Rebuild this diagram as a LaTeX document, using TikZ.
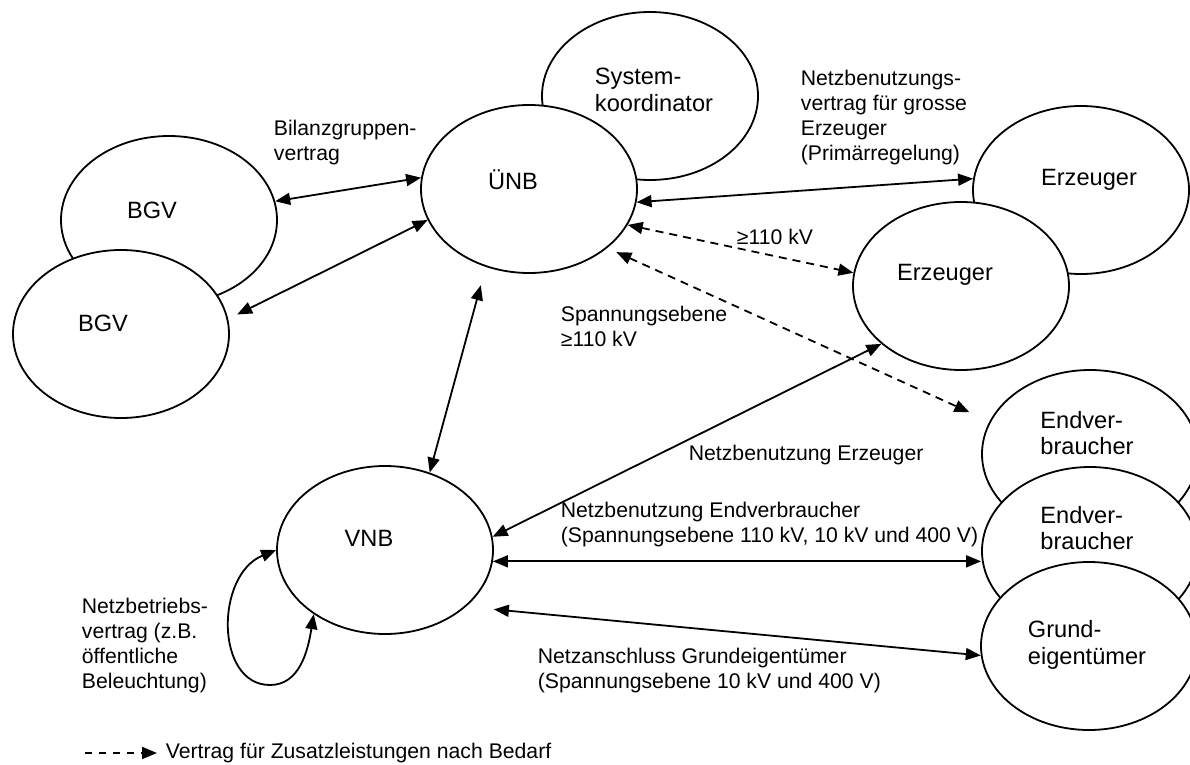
\documentclass[tikz,border=0pt]{standalone}
\usepackage{fontspec}
\setmainfont{Liberation Sans}
\usetikzlibrary{arrows.meta, shapes.geometric}

\begin{document}
\begin{tikzpicture}[
                > = {Triangle[length=7.5pt,width=6pt]}, % arrow head style
                x = 0.5pt, y = -0.5pt, % one unit is one pixel, y goes down
                line width = 0.9pt % line style
            ]

            \tikzstyle{party}=[draw = black, fill = white, ellipse, inner sep = 0pt,
            minimum width = 108pt, minimum height = 84pt]
            \tikzstyle{txt}=[font = \fontsize{10.6}{12.5}\selectfont, align = left,
            inner sep = 0pt]
            \tikzstyle{partytxt}=[align = left, inner sep = 0pt,
            font = \fontsize{11.8}{13.4}\selectfont]
            \tikzstyle{vertrag}=[dash pattern = on 4pt off 3pt]

            \useasboundingbox (0,0) rectangle (1190,765);

            % texts on the arrows (they lie behind the ellipses)
            \node (bgv-v) [txt, anchor=west] at (273,143) {Bilanzgruppen-\\vertrag};
            \node (gr-v) [txt, anchor=west] at (800,118) {Netzbenutzungs-\\vertrag f\"ur grosse\\Erzeuger\\(Prim\"arregelung)};
            \node (kv) [txt] at (775,237) {≥110 kV};
            \node (se) [txt, anchor=west] at (560,326) {Spannungsebene\\≥110 kV};
            \node (nb-e) [txt, anchor=west] at (688,455) {Netzbenutzung Erzeuger};
            \node (nb-v) [txt, anchor=west] at (560,525) {Netzbenutzung Endverbraucher\\(Spannungsebene 110 kV, 10 kV und 400 V)};
            \node (na-g) [txt, anchor=west] at (537,671) {Netzanschluss Grundeigent\"umer\\(Spannungsebene 10 kV und 400 V)};
            \node (nbv) [txt, anchor=west] at (81,646) {Netzbetriebs-\\vertrag (z.B.\\\"offentliche\\Beleuchtung)};

            % parties
            \node (sysk) [party, label={[partytxt, shift={(4,-6)}]center:System-\\koordinator}] at (650,96) {};
            \node (unb) [party, label={[partytxt, shift={(-16,-9)}]center:\"UNB}] at (529,189) {};
            \node (bgv1) [party, label={[partytxt, shift={(-17,-10)}]center:BGV}] at (169,220) {};
            \node (bgv2) [party, label={[partytxt, shift={(-18,-11)}]center:BGV}] at (121,334) {};
            \node (erz1) [party, label={[partytxt, shift={(8,-10)}]center:Erzeuger}] at (1081,190) {};
            \node (erz2) [party, label={[partytxt, shift={(-16,-11)}]center:Erzeuger}] at (961,286) {};
            \node (endv1) [party, label={[partytxt, shift={(-3,-21)}]center:Endver-\\braucher}] at (1090,454) {};
            \node (endv2) [party, label={[partytxt, shift={(-3,-23)}]center:Endver-\\braucher}] at (1090,551) {};
            \node (grund) [party, label={[partytxt, shift={(-2,-1)}]center:Grund-\\eigent\"umer}] at (1089,646) {};
            \node (vnb) [party, label={[partytxt, shift={(-16,-12)}]center:VNB}] at (385,550) {};

            % contracts
            \path[<->] (bgv1.10) edge (unb.174); \path[<->] (bgv2.8) edge[shorten <= 5pt] (unb.197);
            \path[<->] (unb.-7) edge (erz1.174);
            \path[<->, vertrag] (unb.-20) edge (erz2.173);
            \path[<->, vertrag] (unb.-37) edge[shorten <= 5pt, shorten >= 11pt] (endv1.162);
            \path[<->] (unb.241) edge[shorten <= 9.5pt] (vnb.60);
            \path[<->] (vnb.7) edge (erz2.216);
            \path[<->] (vnb.-6) edge (vnb.-6 -| endv2.west);
            \path[<->] (vnb.-35) edge[shorten <= 14pt] (grund.185);
            \draw[<->] (vnb.west) .. controls (215,575) and (215,685) .. (270,685)
            .. controls (300,685) and (308,650) .. (vnb.222);

            % legend
            \coordinate (lg) at (85,753);
            \node (zus) [txt, anchor=west] at (165,753) {Vertrag f\"ur Zusatzleistungen nach Bedarf};
            \draw[->, dash pattern = on 3.5pt off 3.5pt] (lg) -- ([xshift=-4pt]zus.west);

        \end{tikzpicture}
\end{document}
